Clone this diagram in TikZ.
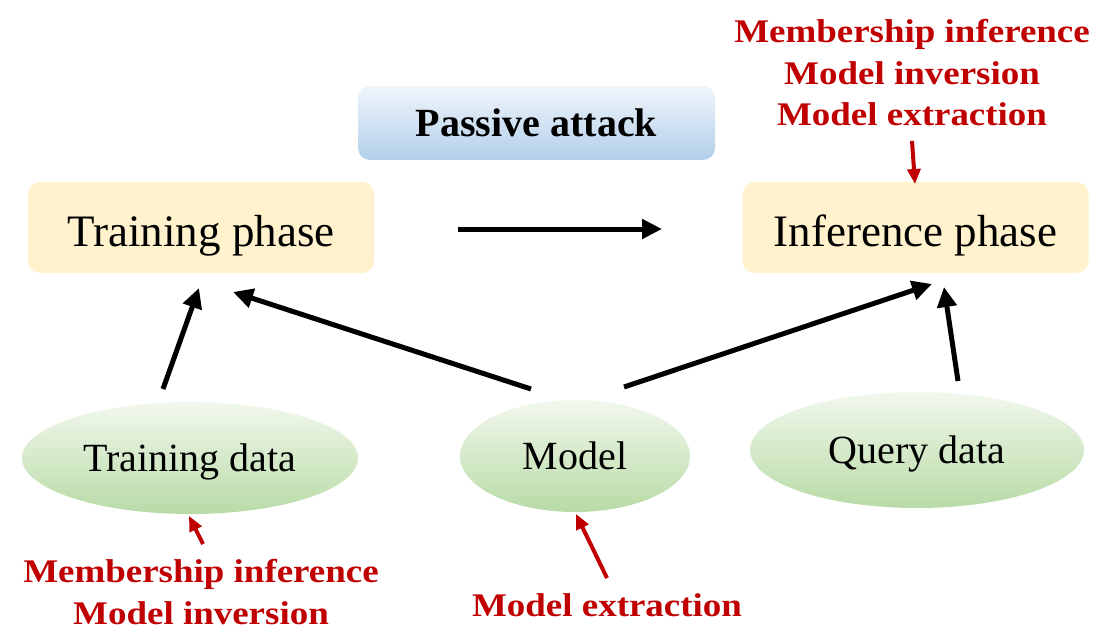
\documentclass[tikz,border=0pt]{standalone}
\usepackage{fontspec}
\setmainfont{Liberation Serif}
\newfontfamily\redfont{Liberation Serif}[FakeStretch=1.12]
\usetikzlibrary{arrows.meta,shapes.geometric,shadings}
\definecolor{phasefill}{HTML}{FFF2CC}
\definecolor{redtxt}{HTML}{C00000}
\definecolor{blueTop}{HTML}{F0F5FB}
\definecolor{blueBot}{HTML}{B2CFEA}
\definecolor{greenTop}{HTML}{F2F8EE}
\definecolor{greenBot}{HTML}{B8DBA6}
\tikzset{
  phasebox/.style={draw=none, fill=phasefill, rounded corners=12pt, minimum width=346pt, minimum height=91pt, inner sep=0pt, text height=48.6pt, text depth=9.9pt, font=\fontsize{45}{50}\selectfont},
  titlebox/.style={draw=none, top color=blueTop, bottom color=blueBot, rounded corners=12pt, minimum width=357pt, minimum height=74pt, inner sep=0pt, font=\fontsize{40}{44}\selectfont\bfseries},
  dataell/.style={ellipse, draw=none, top color=greenTop, bottom color=greenBot, inner sep=0pt, text height=36pt, text depth=8.8pt, font=\fontsize{40}{44}\selectfont},
  redlabel/.style={align=center, text=redtxt, font=\fontsize{33}{41.5}\selectfont\redfont\bfseries, inner sep=0pt},
  blackarrow/.style={line width=5pt, -{Triangle[length=20pt,width=19pt]}},
  redarrow/.style={line width=4pt, draw=redtxt, -{Triangle[length=15pt,width=13pt]}}
}
\begin{document}
\begin{tikzpicture}[x=1pt,y=-1pt]
\useasboundingbox (0,0) rectangle (1108,639);
\node[titlebox] (pa) at (536.5,123) {Passive attack};
\node[phasebox] (tp) at (201,227.5) {Training phase};
\node[phasebox] (ip) at (915.5,227.5) {Inference phase};
\node[dataell, minimum width=336pt, minimum height=112pt] (td) at (190,458) {Training data};
\node[dataell, minimum width=230pt, minimum height=112pt] (md) at (575,456) {Model};
\node[dataell, minimum width=334pt, minimum height=116pt] (qd) at (917,450) {Query data};
\node[redlabel] (rtop) at (912,73) {Membership inference\\Model inversion\\Model extraction};
\node[redlabel] (rbl) at (201,592) {Membership inference\\Model inversion};
\node[redlabel] (rbc) at (607,605) {Model extraction};
% black arrows
\coordinate (a1s) at (458,229); \coordinate (a1e) at (662,229);
\draw[blackarrow] (a1s) -- (a1e);
\coordinate (tds) at (163,389); \coordinate (tpe) at (199,288);
\draw[blackarrow] (tds) -- (tpe);
\coordinate (mds1) at (531,389); \coordinate (tpe2) at (233,292);
\draw[blackarrow] (mds1) -- (tpe2);
\coordinate (mds2) at (624,387); \coordinate (ipe) at (932,284);
\draw[blackarrow] (mds2) -- (ipe);
\coordinate (qds) at (958,381); \coordinate (ipe2) at (944,287);
\draw[blackarrow] (qds) -- (ipe2);
% red arrows
\coordinate (r1s) at (912,141); \coordinate (r1e) at (915,184);
\draw[redarrow] (r1s) -- (r1e);
\coordinate (r2s) at (203,544); \coordinate (r2e) at (189,516);
\draw[redarrow] (r2s) -- (r2e);
\coordinate (r3s) at (607,578); \coordinate (r3e) at (576,514);
\draw[redarrow] (r3s) -- (r3e);
\end{tikzpicture}
\end{document}
